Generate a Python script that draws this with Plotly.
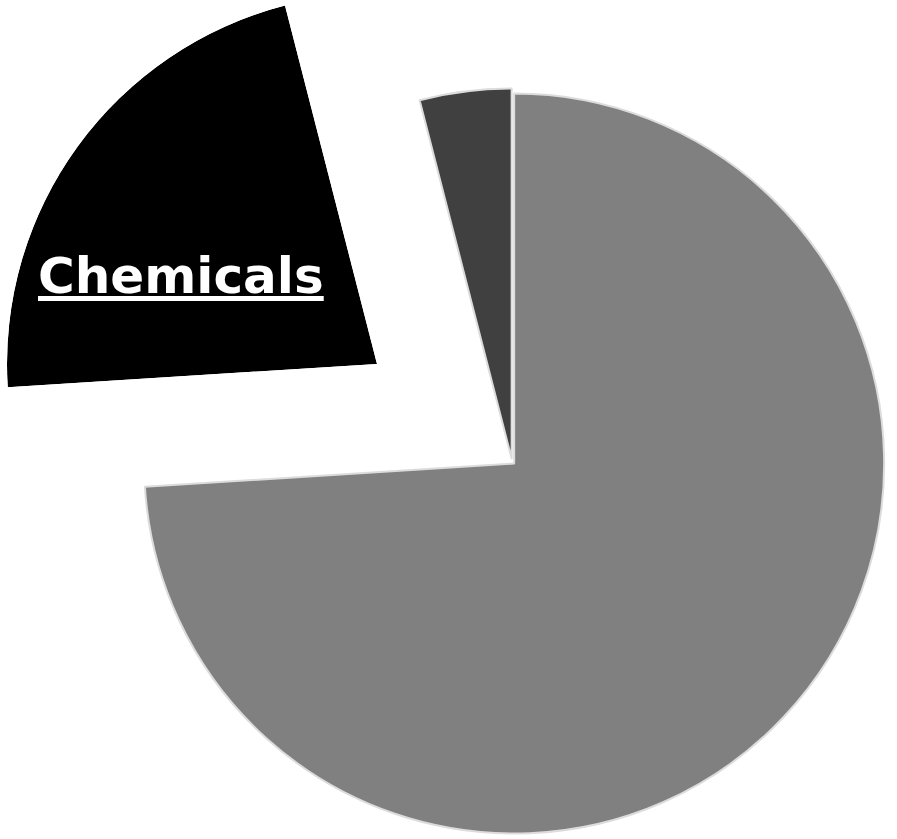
import math
import plotly.graph_objects as go

# Share of each sector (percent), in drawing order clockwise from 12 o'clock
labels = ["Other sectors", "Chemicals", "Minor sectors"]
values = [74, 22, 4]
colors = ["#808080", "#000000", "#404040"]

W, H = 897, 839
R = 370                      # pie radius in px
CENTER = (512, 461.5)        # centre of the main pie in px
EXPLODED = (377, 364)        # apex of the exploded Chemicals wedge in px
SMALL_PULL = 0.008

total = sum(values)
chem = labels.index("Chemicals")

# Main pie: the Chemicals slice is left transparent here and drawn exploded below
pie_colors = [("rgba(0,0,0,0)" if i == chem else c) for i, c in enumerate(colors)]
pie_lines = [("rgba(0,0,0,0)" if i == chem else "#dcdcdc") for i in range(len(values))]
half = R * (1 + SMALL_PULL)
pie_domain = dict(
    x=[(CENTER[0] - half) / W, (CENTER[0] + half) / W],
    y=[1 - (CENTER[1] + half) / H, 1 - (CENTER[1] - half) / H],
)

pie = go.Pie(
    labels=labels,
    values=values,
    sort=False,
    direction="clockwise",
    rotation=0,
    pull=[0 if i == chem else SMALL_PULL for i in range(len(values))],
    marker=dict(colors=pie_colors, line=dict(color=pie_lines, width=2)),
    textinfo="none",
    hoverinfo="label+percent",
    domain=pie_domain,
    showlegend=False,
)

# Exploded Chemicals wedge as a polar bar spanning its own angular sector
start = sum(values[:chem]) / total * 360          # clockwise from 12 o'clock
span = values[chem] / total * 360
a0 = (90 - (start + span)) % 360                  # counter-clockwise from east
a1 = a0 + span


def wedge_bbox(s0, s1):
    xs = [0.0, math.cos(math.radians(s0)), math.cos(math.radians(s1))]
    ys = [0.0, math.sin(math.radians(s0)), math.sin(math.radians(s1))]
    for k in range(0, 721, 90):
        if s0 <= k <= s1:
            xs.append(math.cos(math.radians(k)))
            ys.append(math.sin(math.radians(k)))
    return min(xs), min(ys), max(xs), max(ys)


x0, y0, x1, y1 = wedge_bbox(a0, a1)
left, right = EXPLODED[0] + R * x0, EXPLODED[0] + R * x1
top, bottom = EXPLODED[1] - R * y1, EXPLODED[1] - R * y0

wedge = go.Barpolar(
    r=[1],
    theta=[start + span / 2],
    width=[span],
    marker=dict(color=colors[chem], line=dict(width=0)),
    name=labels[chem],
    hoverinfo="name",
    showlegend=False,
    subplot="polar",
)

fig = go.Figure([pie, wedge])
fig.update_layout(
    width=W,
    height=H,
    margin=dict(l=0, r=0, t=0, b=0),
    paper_bgcolor="white",
    plot_bgcolor="white",
    showlegend=False,
    polar=dict(
        domain=dict(x=[left / W, right / W], y=[1 - bottom / H, 1 - top / H]),
        sector=[a0, a1],
        bgcolor="rgba(0,0,0,0)",
        hole=0,
        radialaxis=dict(range=[0, 1], showline=False, showgrid=False,
                        showticklabels=False, ticks=""),
        angularaxis=dict(rotation=90, direction="clockwise", showline=False,
                         showgrid=False, showticklabels=False, ticks=""),
    ),
    annotations=[
        dict(
            text="<u>Chemicals</u>",
            x=181 / W,
            y=1 - 276 / H,
            xref="paper",
            yref="paper",
            xanchor="center",
            yanchor="middle",
            showarrow=False,
            font=dict(family="DejaVu Sans", size=50, color="white", weight="bold"),
        )
    ],
)

fig.write_html("out.html")
